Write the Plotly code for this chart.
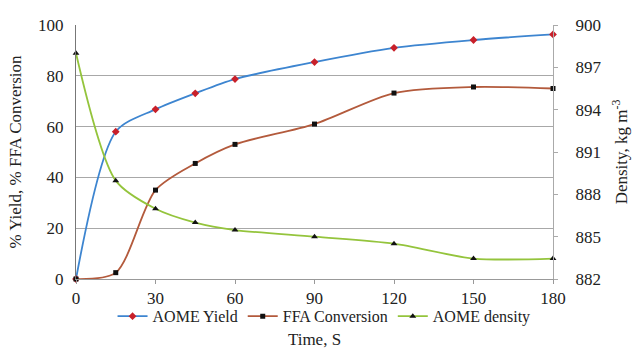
import plotly.graph_objects as go

time_s = [0, 15, 30, 45, 60, 90, 120, 150, 180]
aome_yield = [0, 58, 66.8, 73.1, 78.7, 85.4, 91, 94.1, 96.3]
ffa_conversion = [0, 2.5, 35, 45.5, 53, 61, 73.2, 75.6, 75]
aome_density = [898.0, 888.97, 886.98, 886.0, 885.47, 885.0, 884.5, 883.45, 883.45]

x_ticks = [0, 30, 60, 90, 120, 150, 180]
y_ticks = [0, 20, 40, 60, 80, 100]
y2_ticks = [882, 885, 888, 891, 894, 897, 900]

FONT = "Liberation Serif"
TXT = "#222222"

fig = go.Figure()
fig.add_trace(go.Scatter(
    x=time_s, y=aome_yield, name="AOME Yield", mode="lines+markers",
    line=dict(color="#3d85d0", width=1.8, shape="spline", smoothing=0.8),
    marker=dict(symbol="diamond", size=6, color="#c8202a"),
    cliponaxis=False))
fig.add_trace(go.Scatter(
    x=time_s, y=ffa_conversion, name="FFA Conversion", mode="lines+markers",
    line=dict(color="#b35a3c", width=1.8, shape="spline", smoothing=0.8),
    marker=dict(symbol="square", size=5, color="#111111"),
    cliponaxis=False))
fig.add_trace(go.Scatter(
    x=time_s, y=aome_density, name="AOME density", mode="lines+markers",
    yaxis="y2",
    line=dict(color="#94c43c", width=1.8, shape="spline", smoothing=0.8),
    marker=dict(symbol="triangle-up", size=6, color="#111111"),
    cliponaxis=False))

tf = dict(family=FONT, size=17, color=TXT)

fig.update_layout(
    width=640, height=349,
    margin=dict(l=76, r=87, t=25, b=70),
    paper_bgcolor="white", plot_bgcolor="white",
    font=dict(family=FONT, size=15, color=TXT),
    showlegend=True,
    legend=dict(orientation="h", x=0.52, xanchor="center", y=-0.08, yanchor="top",
                font=dict(family=FONT, size=16, color=TXT), itemwidth=30,
                traceorder="normal", bgcolor="rgba(0,0,0,0)"),
    xaxis=dict(range=[0, 180], tickvals=x_ticks, showgrid=False, zeroline=False,
               showline=True, linecolor="#999999", ticks="outside", ticklen=4,
               tickcolor="#999999", tickfont=tf, automargin=False,
               title=dict(text="Time, S", font=tf, standoff=40)),
    yaxis=dict(range=[0, 100], tickvals=y_ticks, showgrid=True, gridcolor="#a8a8a8",
               gridwidth=1, zeroline=False, showline=True, linecolor="#777777",
               ticks="", tickfont=tf, automargin=False, ticklabelstandoff=8,
               title=dict(text="% Yield, % FFA Conversion", font=tf, standoff=12)),
    yaxis2=dict(range=[882, 900], tickvals=y2_ticks, overlaying="y", side="right",
                showgrid=False, zeroline=False, showline=True, linecolor="#aaaaaa",
                ticks="outside", ticklen=4, tickcolor="#aaaaaa", tickfont=tf,
                automargin=False, ticklabelstandoff=14,
                title=dict(text="Density, kg m<sup>-3</sup>", font=tf, standoff=14)),
)

fig.write_html("out.html")
